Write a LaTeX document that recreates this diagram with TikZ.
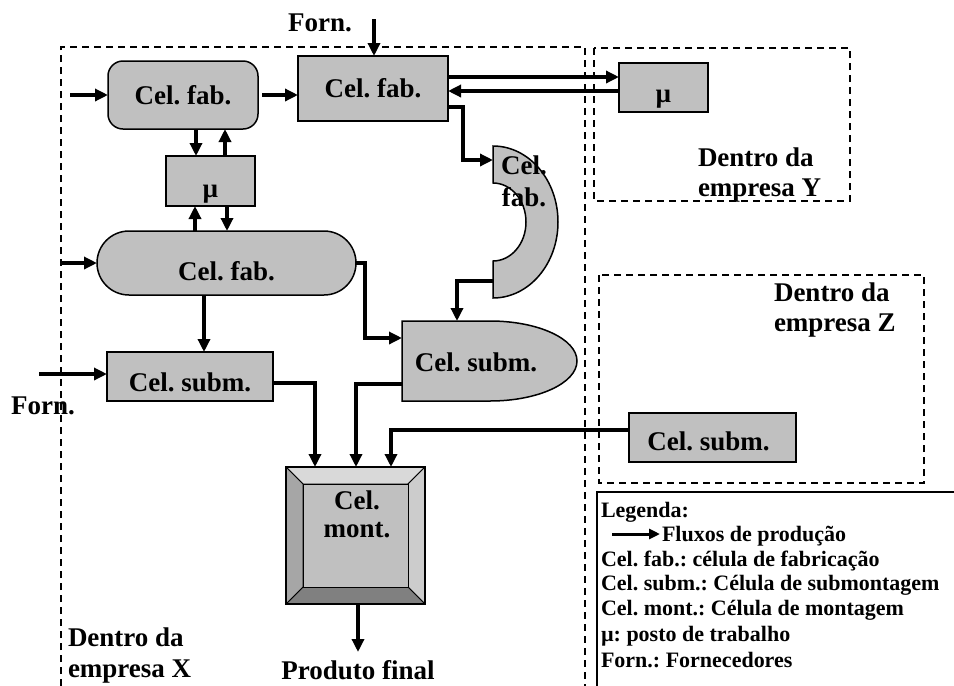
\documentclass[tikz,border=0pt]{standalone}
\usepackage{fontspec}
\setmainfont{Liberation Serif}
\usetikzlibrary{arrows.meta}
\definecolor{cellgray}{HTML}{C0C0C0}
\definecolor{bevtop}{HTML}{D9D9D9}
\definecolor{bevleft}{HTML}{A6A6A6}
\definecolor{bevright}{HTML}{CCCCCC}
\definecolor{bevbottom}{HTML}{808080}
\frenchspacing
\begin{document}
\begin{tikzpicture}[x=1pt,y=-1pt,
  every node/.style={font=\fontsize{27}{31}\selectfont\bfseries, inner sep=0pt, outer sep=0pt},
  cell/.style={draw=black, line width=1.5pt, fill=cellgray},
  flow/.style={line width=4pt, line join=miter, -{Triangle[length=13pt,width=12pt]}},
  zone/.style={draw=black, line width=1.5pt, dash pattern=on 7pt off 5pt},
  lgd/.style={font=\fontsize{22}{25}\selectfont\bfseries, anchor=base west},
  bevel/.style={draw=black, line width=1pt, line join=round}
]
\useasboundingbox (0,0) rectangle (954,686);

% company boundaries
\draw[zone] (61,686) -- (61,47) -- (585,47) -- (585,686);
\draw[zone] (594,48) rectangle (850,201);
\draw[zone] (599,275) rectangle (924,483);

% cells inside company X
\node[cell, rounded corners=15pt, minimum width=150pt, minimum height=68pt] (fabA) at (183,95) {Cel. fab.};
\node[cell, minimum width=150pt, minimum height=65pt] (fabB) at (373,88.5) {Cel. fab.};
\node[cell, minimum width=89pt, minimum height=50pt, label={[yshift=-13pt]center:µ}] (muX) at (210.5,181) {};
\node[cell, rounded corners=32pt, minimum width=259pt, minimum height=64pt, label={[yshift=-8pt]center:Cel. fab.}] (fabS) at (226.5,263) {};
\node[cell, minimum width=166pt, minimum height=49pt, label={[yshift=-6pt]center:Cel. subm.}] (submL) at (190,376.5) {};

% half-ring fabrication cell
\draw[cell] (493,146) arc[start angle=90, end angle=-90, x radius=65pt, y radius=76pt]
  -- (493,261) arc[start angle=-90, end angle=90, x radius=33pt, y radius=39pt] -- cycle;
\node[align=center, font=\fontsize{27}{32}\selectfont\bfseries] (fabC) at (524,181) {Cel.\\fab.};
\coordinate (fabCin) at (493,160);
\coordinate (fabCout) at (493,281);

% D-shaped sub-assembly cell
\draw[cell] (402,321) -- (490,321) arc[start angle=90, end angle=-90, x radius=87pt, y radius=40pt]
  -- (402,401) -- cycle;
\node (submD) at (476,362) {Cel. subm.};
\coordinate (submDtop) at (457,321);
\coordinate (submDin) at (402,338);
\coordinate (submDout) at (402,384);

% assembly cell with bevelled frame
\node[minimum width=139pt, minimum height=137pt] (mont) at (355.5,535.5) {};
\coordinate (iA) at (303,484);
\coordinate (iB) at (408,484);
\coordinate (iC) at (408,587);
\coordinate (iD) at (303,587);
\filldraw[bevel, fill=bevtop] (mont.north west) -- (mont.north east) -- (iB) -- (iA) -- cycle;
\filldraw[bevel, fill=bevright] (mont.north east) -- (mont.south east) -- (iC) -- (iB) -- cycle;
\filldraw[bevel, fill=bevbottom] (mont.south east) -- (mont.south west) -- (iD) -- (iC) -- cycle;
\filldraw[bevel, fill=bevleft] (mont.south west) -- (mont.north west) -- (iA) -- (iD) -- cycle;
\filldraw[bevel, fill=cellgray] (iA) rectangle (iC);
\draw[line width=1.5pt] (mont.north west) rectangle (mont.south east);
\node[align=center, font=\fontsize{27}{28}\selectfont\bfseries] (montText) at (357,514) {Cel.\\mont.};

% cells in companies Y and Z
\node[cell, minimum width=89pt, minimum height=49pt, label={[yshift=-12pt]center:µ}] (muY) at (663.5,87.5) {};
\node[cell, minimum width=167pt, minimum height=49pt, label={[yshift=-4pt, xshift=-4pt]center:Cel. subm.}] (submZ) at (712.5,437.5) {};

% labels
\node (fornTop) at (320,23) {Forn.};
\node (fornLeft) at (43,406) {Forn.};
\node (prod) at (358,670) {Produto final};
\node[anchor=west, align=left] (zoneX) at (68,655) {Dentro da\\empresa X};
\node[anchor=west, align=left, font=\fontsize{27}{30}\selectfont\bfseries] (zoneY) at (698,175) {Dentro da\\empresa Y};
\node[anchor=west, align=left, font=\fontsize{27}{30}\selectfont\bfseries] (zoneZ) at (774,310) {Dentro da\\empresa Z};

% free ends of the supply and output flows
\coordinate (inA) at (70,95);
\coordinate (inS) at (61,263);
\coordinate (inL) at (39,374);
\coordinate (fornIn) at (374,19);
\coordinate (outEnd) at (358,652);

% production flows
\draw[flow] (fornIn) -- (fornIn |- fabB.north);
\draw[flow] (inA) -- (fabA.west);
\draw[flow] ([xshift=4pt]fabA.east) -- (fabB.west |- fabA.east);
\draw[flow] (fabB.east |- 0,77) -- (muY.west |- 0,77);
\draw[flow] (muY.west |- 0,91) -- (fabB.east |- 0,91);
\draw[flow] (fabB.east |- 0,107) -| (463,160) -- (fabCin);
\draw[flow] (fabA.south -| 196,0) -- (muX.north -| 196,0);
\draw[flow] (muX.north -| 225,0) -- (fabA.south -| 225,0);
\draw[flow] (fabS.north -| 195,0) -- (muX.south -| 195,0);
\draw[flow] (muX.south -| 227,0) -- (fabS.north -| 227,0);
\draw[flow] (inS) -- (fabS.west);
\draw[flow] (fabS.south -| 204,0) -- (submL.north -| 204,0);
\draw[flow] (inL) -- (submL.west |- inL);
\draw[flow] (fabS.east) -| (365,338) -- (submDin);
\draw[flow] (fabCout) -| (submDtop);
\draw[flow] (submL.east |- 0,383) -| (mont.north -| 315,0);
\draw[flow] (submDout) -| (mont.north -| 356,0);
\draw[flow] (submZ.west |- 0,430) -| (mont.north -| 391,0);
\draw[flow] (mont.south -| outEnd) -- (outEnd);

% legend
\draw[line width=1.5pt] (954,492) -- (597,492) -- (597,686);
\node[lgd] (lg1) at (601,517) {Legenda:};
\coordinate (lgA) at (612,534);
\coordinate (lgB) at (660,534);
\draw[line width=3pt, -{Triangle[length=11pt,width=10pt]}] (lgA) -- (lgB);
\node[lgd] (lg2) at (662,541) {Fluxos de produção};
\node[lgd] (lg3) at (601,566) {Cel. fab.: célula de fabricação};
\node[lgd] (lg4) at (601,590) {Cel. subm.: Célula de submontagem};
\node[lgd] (lg5) at (601,615) {Cel. mont.: Célula de montagem};
\node[lgd] (lg6) at (601,641) {µ: posto de trabalho};
\node[lgd] (lg7) at (601,667) {Forn.: Fornecedores};
\end{tikzpicture}
\end{document}
